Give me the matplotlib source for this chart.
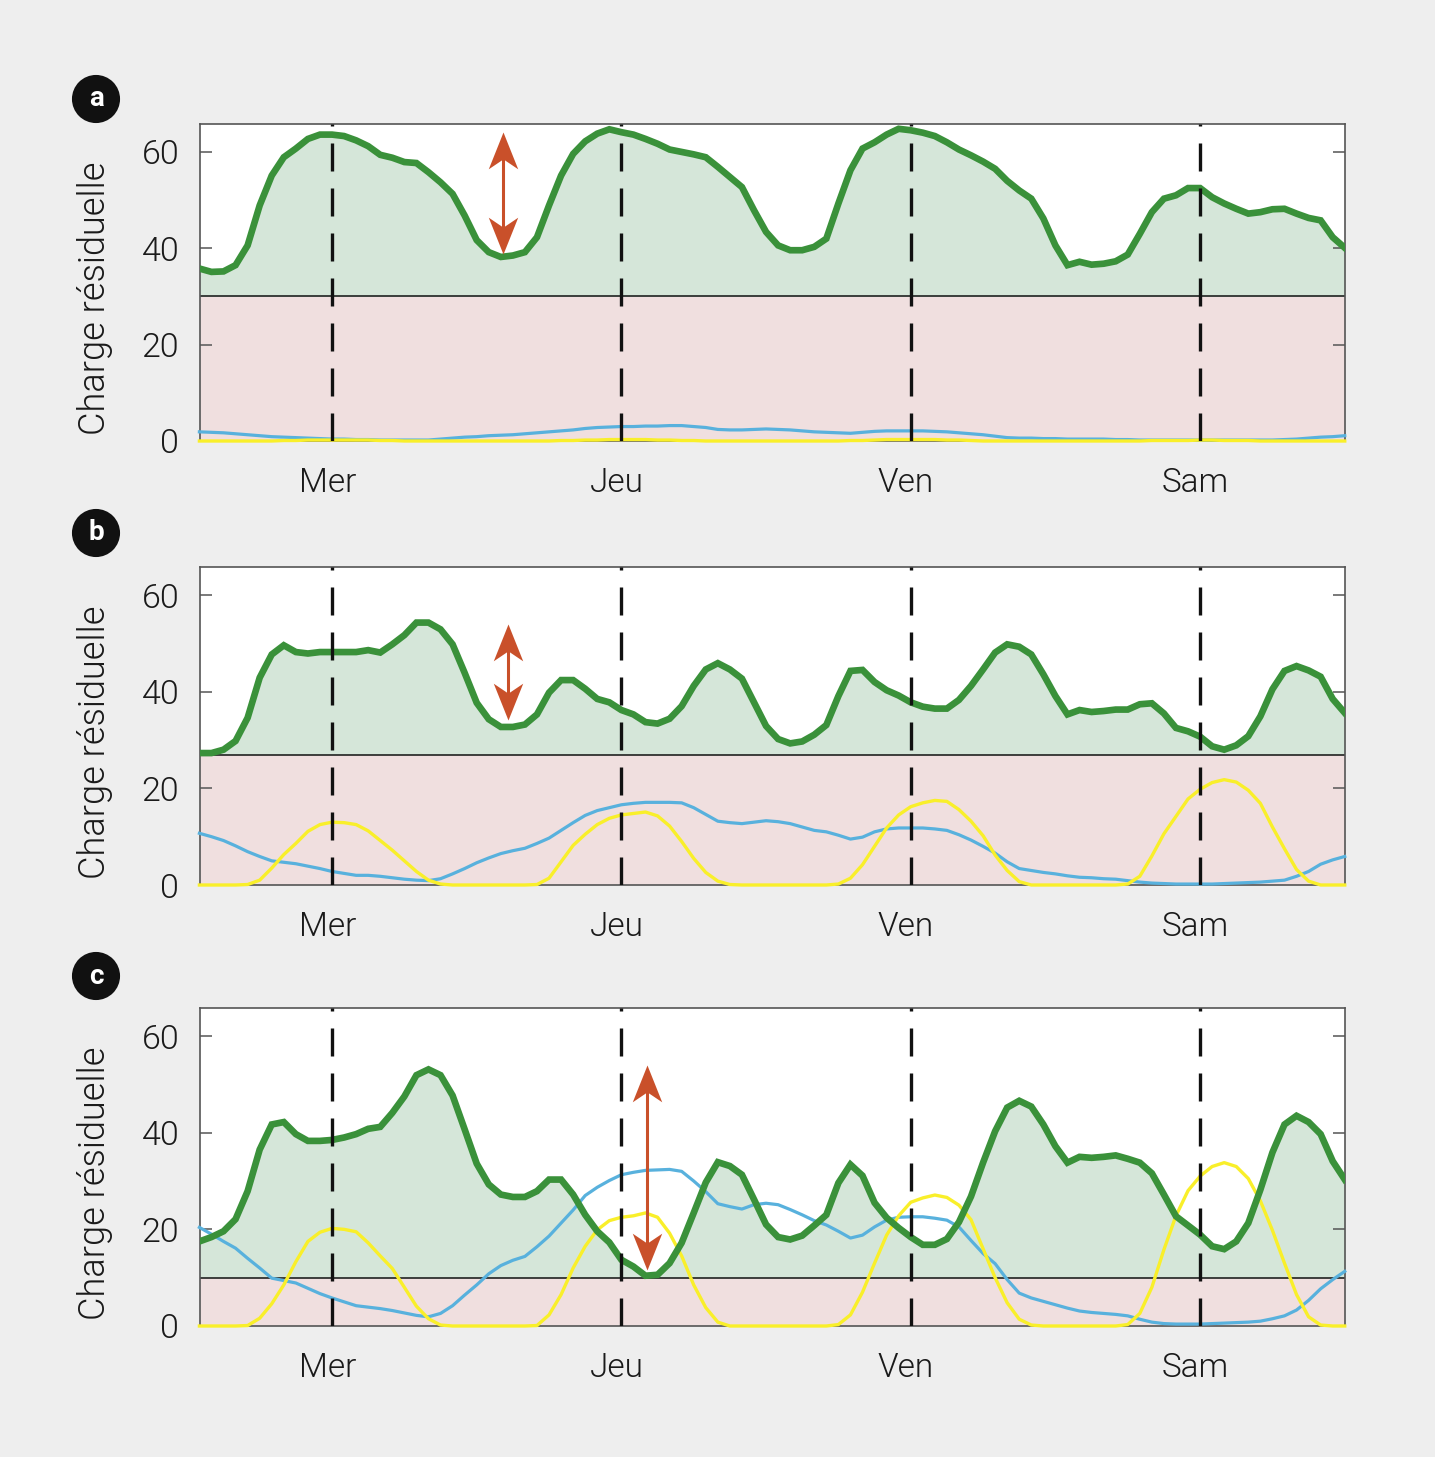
import numpy as np
import matplotlib
matplotlib.use("Agg")
import matplotlib.pyplot as plt
from matplotlib.path import Path

# ---------------- data ----------------
hours = list(range(-11, 85))          # hourly time axis, 0 = Mer
day_ticks = [0, 24, 48, 72]
day_labels = ["Mer", "Jeu", "Ven", "Sam"]
panel_letters = ["a", "b", "c"]
thresholds = [30, 27, 10]

green_a = [35.8, 35.1, 35.2, 36.5, 40.6, 48.9, 55.1, 58.9, 60.7, 62.7, 63.6,
           63.6, 63.3, 62.4, 61.2, 59.4, 58.8, 57.9, 57.7, 55.8, 53.7, 51.3, 46.8,
           41.7, 39.2, 38.2, 38.5, 39.2, 42.3, 48.9, 55.1, 59.6, 62.2, 63.8, 64.7,
           64.1, 63.6, 62.7, 61.7, 60.5, 60.0, 59.5, 58.9, 56.9, 54.8, 52.7, 47.9,
           43.4, 40.6, 39.6, 39.6, 40.3, 42.0, 49.3, 56.2, 60.7, 62.0, 63.6, 64.8,
           64.5, 64.0, 63.3, 62.0, 60.5, 59.3, 58.0, 56.5, 54.0, 52.0, 50.3, 46.2,
           40.6, 36.5, 37.2, 36.6, 36.8, 37.3, 38.7, 43.0, 47.5, 50.3, 51.0, 52.5,
           52.5, 50.6, 49.3, 48.2, 47.2, 47.5, 48.1, 48.2, 47.2, 46.3, 45.8, 42.3,
           40.1]
blue_a = [1.9, 1.8, 1.7, 1.5, 1.3, 1.1, 0.9, 0.8, 0.7, 0.6, 0.5,
          0.4, 0.4, 0.3, 0.3, 0.2, 0.2, 0.2, 0.2, 0.2, 0.4, 0.6, 0.8,
          0.9, 1.1, 1.2, 1.3, 1.5, 1.7, 1.9, 2.1, 2.3, 2.6, 2.8, 2.9,
          3.0, 3.0, 3.1, 3.1, 3.2, 3.2, 3.0, 2.8, 2.4, 2.3, 2.3, 2.4,
          2.5, 2.4, 2.3, 2.1, 1.9, 1.8, 1.7, 1.6, 1.8, 2.0, 2.1, 2.1,
          2.1, 2.1, 2.0, 1.9, 1.7, 1.5, 1.3, 1.0, 0.7, 0.6, 0.6, 0.5,
          0.5, 0.4, 0.4, 0.4, 0.4, 0.3, 0.3, 0.2, 0.2, 0.2, 0.2, 0.2,
          0.2, 0.2, 0.2, 0.2, 0.2, 0.2, 0.2, 0.3, 0.4, 0.6, 0.8, 0.9,
          1.1]
yellow_a = [0.0, 0.0, 0.0, 0.0, 0.0, 0.0, 0.0, 0.1, 0.1, 0.2, 0.2,
            0.2, 0.2, 0.2, 0.2, 0.1, 0.1, 0.0, 0.0, 0.0, 0.0, 0.0, 0.0,
            0.0, 0.0, 0.0, 0.0, 0.0, 0.0, 0.0, 0.1, 0.1, 0.2, 0.2, 0.3,
            0.3, 0.3, 0.3, 0.2, 0.2, 0.1, 0.1, 0.0, 0.0, 0.0, 0.0, 0.0,
            0.0, 0.0, 0.0, 0.0, 0.0, 0.0, 0.0, 0.1, 0.1, 0.2, 0.3, 0.3,
            0.3, 0.3, 0.3, 0.2, 0.2, 0.1, 0.0, 0.0, 0.0, 0.0, 0.0, 0.0,
            0.0, 0.0, 0.0, 0.0, 0.0, 0.0, 0.0, 0.0, 0.1, 0.1, 0.1, 0.1,
            0.2, 0.2, 0.1, 0.1, 0.1, 0.0, 0.0, 0.0, 0.0, 0.0, 0.0, 0.0,
            0.0]

green_b = [27.3, 27.3, 28.0, 29.8, 34.6, 42.9, 47.7, 49.6, 48.2, 47.9, 48.2,
           48.2, 48.2, 48.2, 48.6, 48.1, 49.8, 51.7, 54.3, 54.3, 52.9, 49.8, 43.9,
           37.7, 34.3, 32.7, 32.7, 33.2, 35.3, 39.8, 42.4, 42.4, 40.6, 38.5, 37.8,
           36.2, 35.3, 33.7, 33.4, 34.4, 37.0, 41.2, 44.6, 45.9, 44.6, 42.7, 37.8,
           32.9, 30.2, 29.3, 29.7, 31.1, 33.1, 39.1, 44.3, 44.5, 42.0, 40.3, 39.2,
           37.8, 36.9, 36.5, 36.5, 38.3, 41.2, 44.6, 48.1, 49.8, 49.3, 47.7, 43.6,
           39.1, 35.3, 36.2, 35.8, 36.0, 36.3, 36.3, 37.4, 37.6, 35.5, 32.5, 31.8,
           30.7, 28.7, 28.0, 28.9, 30.8, 34.9, 40.5, 44.3, 45.3, 44.4, 43.1, 38.5,
           35.6]
blue_b = [10.7, 10.0, 9.2, 8.1, 6.9, 5.9, 5.0, 4.7, 4.4, 3.9, 3.4,
          2.8, 2.4, 2.0, 2.0, 1.8, 1.5, 1.2, 1.0, 0.9, 1.3, 2.3, 3.4,
          4.6, 5.6, 6.5, 7.1, 7.6, 8.6, 9.7, 11.3, 12.9, 14.4, 15.4, 16.0,
          16.6, 16.9, 17.1, 17.1, 17.1, 17.0, 16.0, 14.6, 13.2, 12.9, 12.7, 13.0,
          13.3, 13.1, 12.7, 12.0, 11.3, 11.0, 10.3, 9.5, 9.9, 11.0, 11.6, 11.8,
          11.8, 11.8, 11.6, 11.3, 10.4, 9.3, 8.0, 6.6, 4.8, 3.4, 3.0, 2.6,
          2.3, 1.9, 1.6, 1.5, 1.3, 1.2, 0.9, 0.6, 0.4, 0.3, 0.2, 0.2,
          0.2, 0.2, 0.3, 0.4, 0.5, 0.6, 0.8, 1.0, 1.8, 2.8, 4.3, 5.2,
          5.9]
yellow_b = [0.0, 0.0, 0.0, 0.0, 0.1, 1.0, 3.5, 6.3, 8.6, 11.1, 12.5,
            13.0, 12.9, 12.5, 11.2, 9.2, 7.2, 5.0, 2.8, 1.0, 0.2, 0.0, 0.0,
            0.0, 0.0, 0.0, 0.0, 0.0, 0.1, 1.4, 4.8, 8.2, 10.5, 12.5, 13.8,
            14.5, 14.8, 15.1, 14.3, 12.2, 9.0, 5.5, 2.6, 0.8, 0.1, 0.0, 0.0,
            0.0, 0.0, 0.0, 0.0, 0.0, 0.0, 0.2, 1.4, 4.2, 8.0, 11.8, 14.5,
            16.2, 17.0, 17.5, 17.3, 15.6, 13.2, 10.2, 6.2, 3.0, 0.7, 0.0, 0.0,
            0.0, 0.0, 0.0, 0.0, 0.0, 0.0, 0.2, 1.8, 6.0, 10.6, 14.2, 17.8,
            19.8, 21.2, 21.8, 21.3, 19.6, 16.9, 12.0, 7.5, 3.2, 0.8, 0.0, 0.0,
            0.0]

green_c = [17.5, 18.4, 19.6, 22.1, 27.9, 36.5, 41.7, 42.2, 39.7, 38.3, 38.3,
           38.5, 39.0, 39.7, 40.8, 41.2, 44.1, 47.5, 51.9, 53.1, 51.9, 47.7, 40.7,
           33.6, 29.3, 27.2, 26.7, 26.7, 27.9, 30.3, 30.3, 27.2, 23.0, 19.6, 17.3,
           13.7, 12.3, 10.4, 10.6, 13.0, 17.2, 23.4, 29.7, 33.9, 33.1, 31.3, 26.2,
           21.0, 18.4, 17.9, 18.7, 20.8, 23.0, 29.6, 33.4, 31.1, 25.5, 22.4, 20.3,
           18.4, 16.8, 16.8, 18.0, 21.5, 26.8, 33.8, 40.3, 45.2, 46.6, 45.4, 41.7,
           37.2, 33.8, 35.0, 34.8, 35.0, 35.3, 34.6, 33.8, 31.6, 27.2, 22.7, 20.8,
           18.9, 16.5, 15.9, 17.5, 21.3, 28.2, 35.9, 41.7, 43.5, 42.2, 39.7, 34.1,
           30.3]
blue_c = [20.4, 19.0, 17.5, 16.1, 14.0, 12.0, 9.9, 9.4, 8.9, 7.8, 6.7,
          5.8, 5.0, 4.2, 3.9, 3.6, 3.2, 2.7, 2.2, 1.9, 2.6, 4.2, 6.4,
          8.5, 10.8, 12.5, 13.6, 14.4, 16.4, 18.6, 21.3, 24.0, 27.0, 28.7, 30.1,
          31.3, 31.8, 32.2, 32.3, 32.4, 32.0, 30.0, 27.8, 25.3, 24.7, 24.2, 25.1,
          25.4, 25.1, 24.1, 23.0, 21.8, 20.9, 19.6, 18.2, 18.8, 20.5, 21.9, 22.5,
          22.6, 22.6, 22.3, 21.9, 20.5, 17.7, 15.0, 12.9, 9.6, 6.8, 5.8, 5.1,
          4.4, 3.7, 3.1, 2.8, 2.6, 2.4, 2.1, 1.4, 0.8, 0.5, 0.4, 0.4,
          0.4, 0.5, 0.6, 0.7, 0.8, 1.0, 1.5, 2.1, 3.3, 5.3, 7.7, 9.6,
          11.3]
yellow_c = [0.0, 0.0, 0.0, 0.0, 0.1, 1.6, 4.6, 8.5, 13.3, 17.5, 19.4,
            20.2, 20.0, 19.5, 17.2, 14.5, 11.9, 8.0, 4.1, 1.5, 0.2, 0.0, 0.0,
            0.0, 0.0, 0.0, 0.0, 0.0, 0.1, 2.3, 6.5, 12.0, 16.5, 19.9, 21.8,
            22.5, 22.8, 23.4, 22.5, 19.2, 14.5, 8.5, 3.8, 0.8, 0.0, 0.0, 0.0,
            0.0, 0.0, 0.0, 0.0, 0.0, 0.0, 0.3, 2.3, 7.0, 13.0, 18.8, 22.8,
            25.6, 26.5, 27.1, 26.6, 25.0, 22.0, 16.0, 10.0, 4.8, 1.4, 0.2, 0.0,
            0.0, 0.0, 0.0, 0.0, 0.0, 0.0, 0.3, 2.6, 8.0, 15.8, 22.8, 28.0,
            31.0, 33.0, 33.8, 33.0, 30.5, 25.9, 19.8, 13.0, 6.5, 1.9, 0.2, 0.0,
            0.0]

# double arrows: (hour, low value, high value)
arrow_hours = [14.2, 14.6, 26.1]
arrow_low = [38.9, 34.1, 11.5]
arrow_high = [64.2, 54.0, 54.0]

greens = [green_a, green_b, green_c]
blues = [blue_a, blue_b, blue_c]
yellows = [yellow_a, yellow_b, yellow_c]

# ---------------- style ----------------
BG = "#eeeeee"
GREEN = "#3a913a"
GREEN_FILL = "#d5e6d9"
PINK_FILL = "#f0dfdf"
BLUE = "#58b1dd"
YELLOW = "#f9ef2a"
ARROW = "#c9502a"
TEXT = "#1a1a1a"
FONT = "Roboto"

plt.rcParams["font.family"] = [FONT, "DejaVu Sans"]
plt.rcParams["font.weight"] = 300
plt.rcParams["axes.labelweight"] = 300

# notched arrow-head marker shapes (tip at the origin)
head_up = Path([(0, 0), (0.4, -1), (0, -0.73), (-0.4, -1), (0, 0)],
               [Path.MOVETO, Path.LINETO, Path.LINETO, Path.LINETO, Path.CLOSEPOLY])
head_down = Path([(0, 0), (0.4, 1), (0, 0.73), (-0.4, 1), (0, 0)],
                 [Path.MOVETO, Path.LINETO, Path.LINETO, Path.LINETO, Path.CLOSEPOLY])

W, H = 1435, 1457
fig = plt.figure(figsize=(W / 100, H / 100), dpi=100, facecolor=BG)

# axes boxes in pixels: (left, top, right, bottom)
boxes = [(200, 124, 1345, 441), (200, 567, 1345, 885), (200, 1008, 1345, 1326)]
letter_centers = [(96, 99), (96, 533), (96, 976)]

x = np.array(hours, dtype=float)
for i, (l, t, r, b) in enumerate(boxes):
    ax = fig.add_axes([l / W, 1 - b / H, (r - l) / W, (b - t) / H])
    ax.set_facecolor("white")
    thr = thresholds[i]
    g = np.array(greens[i])
    ax.fill_between(x, 0, thr, color=PINK_FILL, lw=0, zorder=1)
    ax.fill_between(x, thr, g, where=g >= thr, interpolate=True,
                    color=GREEN_FILL, lw=0, zorder=1)
    ax.axhline(thr, color="#111111", lw=1.1, zorder=2)
    ax.plot(x, blues[i], color=BLUE, lw=2.3, zorder=3, clip_on=False,
            solid_joinstyle="round")
    ax.plot(x, yellows[i], color=YELLOW, lw=2.4, zorder=3.1, clip_on=False,
            solid_joinstyle="round")
    ax.plot(x, g, color=GREEN, lw=4.8, zorder=4, solid_joinstyle="miter")
    for d in day_ticks:
        ax.axvline(d, color="#111111", lw=2.4, dashes=(8.4, 5.1), zorder=6)
    # double arrow: shaft + notched heads
    ah, lo, hi = arrow_hours[i], arrow_low[i], arrow_high[i]
    ax.plot([ah, ah], [lo + 3, hi - 3], color=ARROW, lw=2.2, zorder=7,
            solid_capstyle="butt")
    ax.plot([ah], [hi], marker=head_up, ms=53, color=ARROW, mew=0, zorder=7.1,
            linestyle="none")
    ax.plot([ah], [lo], marker=head_down, ms=53, color=ARROW, mew=0, zorder=7.1,
            linestyle="none")
    ax.set_xlim(-10.95, 84.02)
    ax.set_ylim(0, 65.8)
    ax.set_yticks([0, 20, 40, 60])
    ax.set_yticklabels(["0", "20", "40", "60"])
    ax.set_xticks([d - 0.4 for d in day_ticks])
    ax.set_xticklabels(day_labels)
    ax.tick_params(axis="y", direction="in", length=8.5, width=1.1,
                   color="#555555", left=True, right=True, labelsize=24.5,
                   pad=15, labelcolor=TEXT)
    ax.tick_params(axis="x", length=0, labelsize=24, pad=19, labelcolor=TEXT)
    for s in ax.spines.values():
        s.set_color("#555555")
        s.set_linewidth(1.2)
        s.set_zorder(2.5)
    ax.set_ylabel("Charge résiduelle", fontsize=26, color=TEXT,
                  va="center", ha="center")
    ax.yaxis.set_label_coords(-0.092, 0.45)
    cx, cy = letter_centers[i]
    fig.text(cx / W, 1 - cy / H, panel_letters[i], ha="center", va="center",
             fontsize=20, fontweight="bold", color="white",
             family=[FONT, "DejaVu Sans"],
             bbox=dict(boxstyle="circle,pad=0.38", fc="#111111", ec="none"))

fig.savefig("out.png", dpi=100, facecolor=BG)
